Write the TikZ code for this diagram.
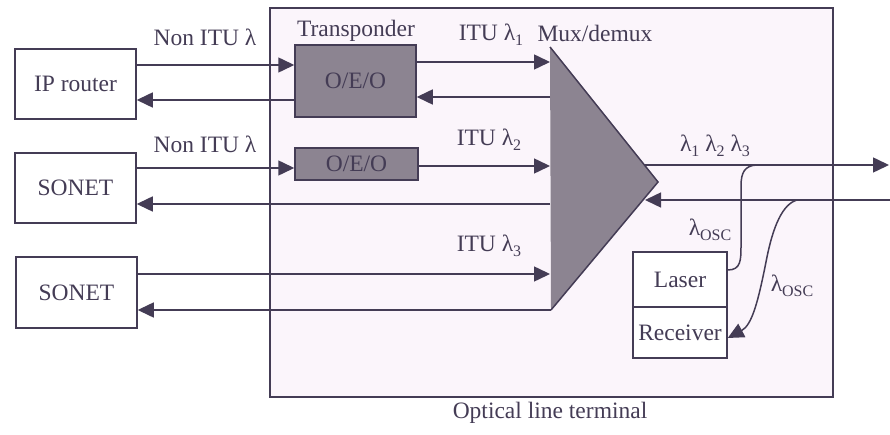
\documentclass[tikz,border=0pt]{standalone}
\usepackage{fontspec}
\setmainfont{Liberation Serif}
\usetikzlibrary{arrows.meta}
\definecolor{ln}{RGB}{68,60,85}
\definecolor{dk}{RGB}{140,132,145}
\definecolor{bg}{RGB}{251,245,251}
\newcommand\lsb[1]{\raisebox{-0.5ex}{\fontsize{16}{16}\selectfont #1}}
\begin{document}
\begin{tikzpicture}[x=1pt,y=-1pt,
  line/.style={draw=ln, line width=1.5pt},
  arr/.style={line, -{Triangle[length=16pt,width=15pt]}},
  box/.style={draw=ln, line width=1.5pt, fill=white, inner sep=0pt, text=ln, font=\fontsize{23.5}{23.5}\selectfont},
  dbox/.style={box, fill=dk},
  lbl/.style={inner sep=0pt, text=ln, font=\fontsize{23.5}{23.5}\selectfont}
]
\useasboundingbox (0,0) rectangle (890,435);
% optical line terminal frame
\node[draw=ln, line width=1.5pt, fill=bg, minimum width=563pt, minimum height=389pt, inner sep=0pt] (olt) at (551.5,202.5) {};
% client boxes
\node[box, minimum width=121pt, minimum height=70pt] (ip) at (75.5,84) {IP router};
\node[box, minimum width=121pt, minimum height=70pt] (s1) at (75.5,188) {SONET};
\node[box, minimum width=121pt, minimum height=71pt] (s2) at (76.5,292.5) {SONET};
% transponders
\node[dbox, minimum width=121pt, minimum height=72pt] (oeo1) at (355.5,81) {O/E/O};
\node[dbox, minimum width=123pt, minimum height=32pt] (oeo2) at (356.5,164) {O/E/O};
% laser / receiver
\node[box, minimum width=94pt, minimum height=55pt] (laser) at (680,279.5) {Laser};
\node[box, minimum width=94pt, minimum height=51pt] (rx) at (680,332.5) {Receiver};
% mux/demux triangle
\coordinate (mA) at (550,47);
\coordinate (mB) at (551,310);
\coordinate (mC) at (658,182);
\fill[dk] (mA) -- (mC) -- (mB) -- cycle;
\draw[line, line join=miter] (mA) -- (mC) -- (mB);
\coordinate (mO) at (644,165);
\coordinate (mI) at (645,200);
\coordinate (outR) at (889,165);
\coordinate (inR) at (890,200);
% client <-> transponder
\draw[arr] (ip.east |- 0,65) -- (oeo1.west |- 0,65);
\draw[arr] (oeo1.west |- 0,100) -- (ip.east |- 0,100);
\draw[arr] (s1.east |- 0,168) -- (oeo2.west |- 0,168);
% transponder <-> mux
\draw[arr] (oeo1.east |- 0,62) -- (mA |- 0,62);
\draw[arr] (mA |- 0,97) -- (oeo1.east |- 0,97);
\draw[arr] (oeo2.east |- 0,166) -- (mA |- 0,166);
\draw[arr] (mA |- 0,204) -- (s1.east |- 0,204);
\draw[arr] (s2.east |- 0,274) -- (mA |- 0,274);
\draw[arr] (mB) -- (s2.east |- mB);
% line side
\draw[arr] (mO) -- (outR);
\draw[arr] (inR) -- (mI);
% OSC
\draw[line] (laser.east |- 0,270) .. controls (741,270) and (741,260) .. (741,245) -- (741,186) .. controls (741,172) and (745,166) .. (756,165);
\draw[arr] (797,200) .. controls (783,204) and (773,225) .. (766,262) .. controls (758,302) and (752,325) .. (rx.east |- 0,338);
% labels
\node[lbl] (n1) at (205,37) {Non ITU λ};
\node[lbl] (n2) at (205,144) {Non ITU λ};
\node[lbl] (tr) at (356,31) {Transponder};
\node[lbl] (i1) at (491,35) {ITU λ\lsb{1}};
\node[lbl] (mx) at (595,33) {Mux/demux};
\node[lbl] (i2) at (489,140) {ITU λ\lsb{2}};
\node[lbl] (i3) at (489,246) {ITU λ\lsb{3}};
\node[lbl] (l123) at (715,146) {λ\lsb{1} λ\lsb{2} λ\lsb{3}};
\node[lbl] (osc1) at (710,230) {λ\lsb{OSC}};
\node[lbl] (osc2) at (792,286) {λ\lsb{OSC}};
\node[lbl] (olttxt) at (550,413) {Optical line terminal};
\end{tikzpicture}
\end{document}
